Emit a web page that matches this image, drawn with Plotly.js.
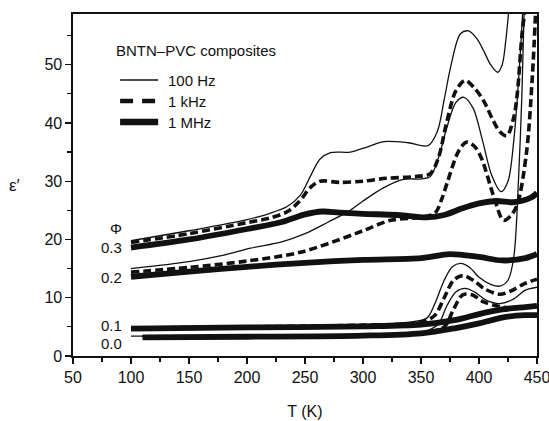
<!DOCTYPE html>
<html>
<head>
<meta charset="utf-8">
<script src="https://cdn.plot.ly/plotly-3.0.1.min.js"></script>
<style>
  html, body { margin: 0; padding: 0; background: #fff; }
  #chart { width: 549px; height: 421px; }
</style>
</head>
<body>
<div id="chart"></div>
<script>
// Permittivity of BNTN–PVC composites vs temperature, for four filler
// fractions (Φ) at three measuring frequencies.

// Φ = 0.3
const t03_100 = [100,150,200,220,235,246,255,263,272,289,304,318,339,356,364,370,376,384,391,398,404,410,416,420,423,426];
const e03_100 = [19.8,21.5,23.4,24.5,25.7,27.6,31,33.8,34.9,35,35.9,36.8,36.6,36.1,38.5,44,50,55.3,55.8,54.5,52.4,50,48.7,50,54,60];
const t03_1k  = [100,150,200,220,235,245,255,263,280,300,320,345,358,365,372,380,388,396,404,412,418,424,430,433,437,440];
const e03_1k  = [19.5,21,22.9,23.7,24.8,26.5,29,30,29.8,30,30.5,30.8,31.3,34,40,45.5,47.3,46,43.8,40.5,38.5,37.8,41,45,55,60];
const t03_1M  = [100,150,200,230,250,265,280,300,330,355,370,385,400,415,430,445,450];
const e03_1M  = [18.6,20,21.8,23,24.3,24.8,24.6,24.4,24.2,23.8,24.2,25.3,26.2,26.6,26.4,27.2,28];

// Φ = 0.2
const t02_100 = [100,150,180,203,230,250,270,289,300,318,335,350,358,365,372,380,387,395,403,411,419,425,430,434,438];
const e02_100 = [15,16.2,17.3,18.5,19.6,21,23,25,26.6,28.9,30.3,30.4,30.8,34,39,43.5,44.4,42.5,37,31,28.2,30,37,47,60];
const t02_1k  = [100,150,200,246,280,300,324,350,362,368,373,382,389,396,402,413,421,427,433,441,446,449];
const e02_1k  = [14.4,15.2,16.3,17.8,20,21.5,23.3,23.8,24.5,27,30,35,36.7,36,34,27.2,23.3,24,26,35,48,60];
const t02_1M  = [100,150,200,250,300,350,375,400,420,440,450];
const e02_1M  = [13.6,14.5,15.3,16,16.5,16.8,17.5,17,16.4,16.8,17.5];

// Φ = 0.1
const t01_100 = [100,200,300,340,355,362,370,377,384,392,400,410,418,425,430,434,437,439];
const e01_100 = [4.8,5.0,5.4,5.8,6.5,9,13,15.3,15.9,15.2,13.5,12.3,12.0,13,17,30,45,60];
const t01_1k  = [100,200,300,350,362,370,378,386,395,405,418,428,438,450];
const e01_1k  = [4.8,5.0,5.3,5.8,7,10,13,13.8,13,11.5,10.6,11.2,12.3,13.2];
const t01_1M  = [100,200,300,350,380,400,420,440,450];
const e01_1M  = [4.7,4.9,5.1,5.4,6.2,7.2,8,8.4,8.6];

// Φ = 0.0
const t00_100 = [100,200,300,350,365,372,380,388,396,406,418,430,440,450];
const e00_100 = [3.4,3.4,3.6,4,5.5,8.5,11,11.6,11,9.6,9,9.8,11.3,11.8];
const t00_1k  = [110,200,300,350,370,378,386,394,404,418,430,440,450];
const e00_1k  = [3.3,3.3,3.5,3.9,5,8,10.5,10.5,9.3,8.5,8.2,8.4,8.4];
const t00_1M  = [110,200,300,350,380,400,420,440,450];
const e00_1M  = [3.2,3.3,3.5,3.9,4.8,5.6,6.6,7,7];

// Filler-fraction labels at the left end of each group
const phiLabels = ['0.3','0.2','0.1','0.0'];
const phiLabelY = [18.6,13.4,5.2,2.1];

// Axis ticks
const xTicks = [50,100,150,200,250,300,350,400,450];
const yTicks = [0,10,20,30,40,50];

const freqNames = ['100 Hz','1 kHz','1 MHz'];

const FONT = 'Liberation Sans, Arial, Helvetica, sans-serif';
const INK = '#111';

// line look for each frequency
const styles = [
  {width: 1.3, dash: 'solid'},
  {width: 3.6, dash: '8px,4px'},
  {width: 5.8, dash: 'solid'}
];

const groups = [
  [[t03_100,e03_100],[t03_1k,e03_1k],[t03_1M,e03_1M]],
  [[t02_100,e02_100],[t02_1k,e02_1k],[t02_1M,e02_1M]],
  [[t01_100,e01_100],[t01_1k,e01_1k],[t01_1M,e01_1M]],
  [[t00_100,e00_100],[t00_1k,e00_1k],[t00_1M,e00_1M]]
];

const traces = [];
groups.forEach(function (g) {
  g.forEach(function (s, k) {
    traces.push({
      x: s[0], y: s[1], type: 'scatter', mode: 'lines', name: freqNames[k],
      line: {color: INK, width: styles[k].width, dash: styles[k].dash, shape: 'spline', smoothing: 0.9},
      showlegend: false, hoverinfo: 'skip'
    });
  });
});

// Key: sample strokes and captions, placed in paper coordinates
const keyStyles = [
  {width: 1.5, dash: 'solid'},
  {width: 4.5, dash: '13px,9px'},
  {width: 6.5, dash: 'solid'}
];
const keyRowY = [0.807, 0.7456, 0.6842];
const shapes = [];
const annotations = [];
annotations.push({x: 0.0886, y: 0.8947, xref: 'paper', yref: 'paper', text: 'BNTN–PVC composites',
                  showarrow: false, xanchor: 'left', yanchor: 'middle',
                  font: {family: FONT, size: 15, color: INK}});
freqNames.forEach(function (name, k) {
  shapes.push({type: 'line', xref: 'paper', yref: 'paper',
               x0: 0.1015, x1: 0.1836, y0: keyRowY[k], y1: keyRowY[k],
               line: {color: INK, width: keyStyles[k].width, dash: keyStyles[k].dash}});
  annotations.push({x: 0.2, y: keyRowY[k], xref: 'paper', yref: 'paper', text: name,
                    showarrow: false, xanchor: 'left', yanchor: 'middle',
                    font: {family: FONT, size: 15, color: INK}});
});

phiLabels.forEach(function (lab, i) {
  annotations.push({x: 94, y: phiLabelY[i], xref: 'x', yref: 'y', text: lab, showarrow: false,
                    xanchor: 'right', yanchor: 'middle', font: {family: FONT, size: 15, color: INK}});
});
annotations.push({x: 94, y: 21.8, xref: 'x', yref: 'y', text: 'Φ', showarrow: false,
                  xanchor: 'right', yanchor: 'middle', font: {family: FONT, size: 15, color: INK}});
annotations.push({x: -0.127, y: 0.5, xref: 'paper', yref: 'paper', text: 'ε′', showarrow: false,
                  xanchor: 'center', yanchor: 'middle', font: {family: FONT, size: 17, color: INK}});

const layout = {
  width: 549, height: 421,
  margin: {l: 73, r: 12, t: 14, b: 65},
  paper_bgcolor: '#fff', plot_bgcolor: '#fff',
  font: {family: FONT, size: 15, color: INK},
  showlegend: false,
  xaxis: {
    range: [50, 450], tickmode: 'array', tickvals: xTicks, ticktext: xTicks.map(String),
    ticklabeloverflow: 'allow',
    ticks: 'outside', ticklen: 6, tickwidth: 1.3, tickcolor: INK,
    minor: {dtick: 25, ticks: 'outside', ticklen: 4, tickwidth: 1.2, tickcolor: INK},
    showline: true, linewidth: 1.6, linecolor: INK, mirror: true,
    showgrid: false, zeroline: false,
    tickfont: {family: FONT, size: 16, color: INK},
    title: {text: 'T (K)', font: {family: FONT, size: 16, color: INK}, standoff: 21}
  },
  yaxis: {
    range: [0, 58.7], tickmode: 'array', tickvals: yTicks, ticktext: yTicks.map(String),
    ticks: 'outside', ticklen: 6, tickwidth: 1.3, tickcolor: INK,
    minor: {dtick: 5, ticks: 'outside', ticklen: 4, tickwidth: 1.2, tickcolor: INK},
    showline: true, linewidth: 1.6, linecolor: INK, mirror: true,
    showgrid: false, zeroline: false,
    tickfont: {family: FONT, size: 16, color: INK}
  },
  shapes: shapes,
  annotations: annotations
};

Plotly.newPlot('chart', traces, layout, {staticPlot: true, displayModeBar: false});
</script>
</body>
</html>
